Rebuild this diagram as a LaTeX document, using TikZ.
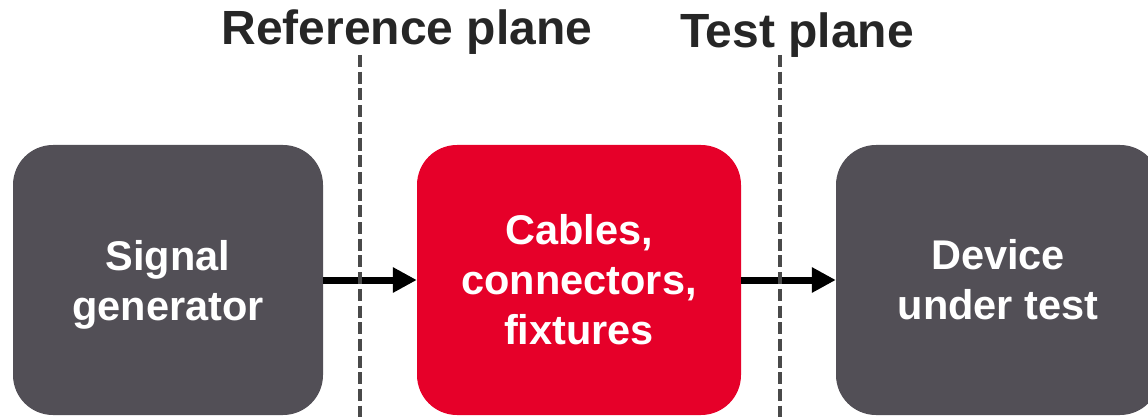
\documentclass[tikz,border=0pt]{standalone}
\usepackage{fontspec}
\setmainfont{Liberation Sans}
\usetikzlibrary{arrows.meta}
\definecolor{boxgray}{HTML}{524F56}
\definecolor{boxred}{HTML}{E60029}
\definecolor{titlecol}{HTML}{262626}
\definecolor{dashcol}{HTML}{4A4A4A}
\tikzset{
  blockbox/.style={rounded corners=40pt, inner sep=0pt, minimum height=270pt,
    text=white, align=center, font=\bfseries\fontsize{41.5}{50}\selectfont},
  flowarrow/.style={line width=7pt, -{Triangle[length=24pt,width=24pt]}},
  planeline/.style={draw=dashcol, line width=3.5pt, dash pattern=on 12pt off 4.7pt},
  planetitle/.style={text=titlecol, font=\bfseries\fontsize{48}{50}\selectfont, anchor=base, inner sep=0pt}
}
\begin{document}
\begin{tikzpicture}[x=1pt,y=-1pt]
\useasboundingbox (0,0) rectangle (1148,417);
\clip (0,0) rectangle (1148,417);
\node[blockbox, fill=boxgray, minimum width=310pt, text depth=0pt] (sg) at (168,280) {Signal\\generator};
\node[blockbox, fill=boxred, minimum width=324pt] (cab) at (579,280) {Cables,\\connectors,\\fixtures};
\node[blockbox, fill=boxgray, minimum width=324pt] (dut) at (998,280) {Device\\under test};
\draw[flowarrow] (sg.east) -- (cab.west);
\draw[flowarrow] (cab.east) -- (dut.west);
\coordinate (rpt) at (360,55);
\coordinate (rpb) at (360,417);
\coordinate (tpt) at (780,55);
\coordinate (tpb) at (780,417);
\draw[planeline] (rpt) -- (rpb);
\draw[planeline] (tpt) -- (tpb);
\node[planetitle] (rptitle) at (407,45) {Reference plane};
\node[planetitle] (tptitle) at (797,48) {Test plane};
\end{tikzpicture}
\end{document}
